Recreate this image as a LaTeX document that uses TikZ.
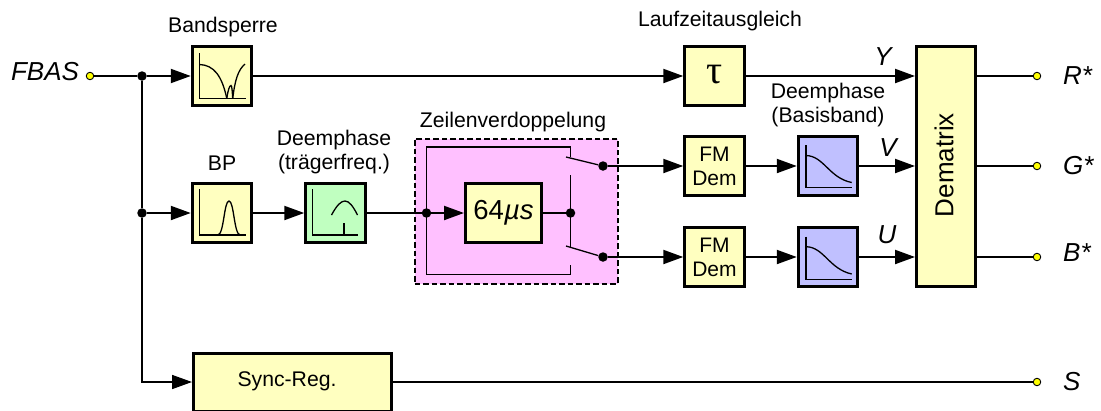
\documentclass[tikz,border=0pt]{standalone}
\usepackage{fontspec}
\setmainfont{Liberation Sans}
\newfontfamily\tauface{Liberation Serif}
\usetikzlibrary{arrows.meta}
\definecolor{byel}{HTML}{FFFFC0}
\definecolor{bgrn}{HTML}{C0FFC0}
\definecolor{bblu}{HTML}{C0C0FF}
\definecolor{bpnk}{HTML}{FFC0FF}
\definecolor{tyel}{HTML}{FFFF00}
\tikzset{
  x=1pt,y=-1pt,
  box/.style={draw=black,line width=3pt,fill=byel,inner sep=0pt,minimum width=59.5pt,minimum height=58.5pt,font=\fontsize{21}{24}\selectfont,align=center},
  lab/.style={inner sep=0pt,font=\fontsize{21.2}{24.5}\selectfont,align=center},
  sig/.style={inner sep=0pt,font=\fontsize{26}{30}\selectfont\itshape},
  wire/.style={line width=2.1pt,draw=black},
  thinw/.style={line width=1.3pt,draw=black},
  arr/.style={-{Triangle[length=20pt,width=14pt]}},
  axis/.style={line width=1.3pt,draw=black},
  curve/.style={line width=1.3pt,draw=black},
  junc/.style={circle,fill=black,inner sep=0pt,minimum size=9.5pt},
  term/.style={circle,fill=tyel,draw=black,line width=0.9pt,inner sep=0pt,minimum size=7.5pt},
}
\begin{document}
\begin{tikzpicture}
\useasboundingbox (0,0) rectangle (1101,410);
\clip (0,0) rectangle (1101,410);
% pink group
\node[draw=black,dash pattern=on 5.5pt off 3pt,line width=2pt,fill=bpnk,minimum width=203pt,minimum height=145pt,inner sep=0pt] (grp) at (516,211) {};
% boxes
\node[box] (bs) at (222,76) {};
\node[box] (bp) at (222,213) {};
\node[box,fill=bgrn] (de) at (335.5,213) {};
\node[box,minimum width=76pt,minimum height=59pt] (d64) at (503.5,213) {\fontsize{27.5}{30}\selectfont 64\textit{µs}};
\node[box] (tau) at (714.5,76) {\raisebox{3pt}{\fontsize{40}{42}\selectfont\tauface τ}};
\node[box] (fm1) at (714.5,166) {FM\\Dem};
\node[box] (fm2) at (714.5,257) {FM\\Dem};
\node[box,fill=bblu] (bb1) at (828,166) {};
\node[box,fill=bblu] (bb2) at (828,257) {};
\node[box,minimum width=59pt,minimum height=240pt] (dm) at (946,166.5) {};
\node[rotate=90,inner sep=0pt,font=\fontsize{26}{30}\selectfont] (dmt) at (944,165) {Dematrix};
\node[box,minimum width=198pt,minimum height=58pt] (sy) at (292.5,382) {};
\node[lab] (syt) at (287,381) {Sync-Reg.};
% terminals and junctions
\node[term] (tin) at (90,76) {};
\node[junc] (j1) at (142,76) {};
\node[junc] (j2) at (142,213) {};
\node[term] (tr) at (1037,76) {};
\node[term] (tg) at (1037,166) {};
\node[term] (tb) at (1037,257) {};
\node[term] (ts) at (1037,382) {};
\node[junc] (j3) at (426.5,213) {};
\node[junc] (j4) at (570.5,213) {};
\node[junc] (j5) at (603,166) {};
\node[junc] (j6) at (603,257) {};
% connectors
\draw[wire] (tin) -- (j1);
\draw[wire,arr] (j1) -- (bs.west);
\draw[wire,arr] (bs.east) -- (tau.west);
\draw[wire,arr] (tau.east) -- (dm.west |- tau.east);
\draw[wire,line width=1.6pt] (j1) -- (j2);
\draw[wire,line width=1.6pt,arr] (j2) |- (sy.west);
\draw[wire,arr] (j2) -- (bp.west);
\draw[wire,arr] (bp.east) -- (de.west);
\draw[wire] (de.east) -- (j3);
\draw[wire,arr] (j3) -- (d64.west);
\draw[thinw] (d64.east) -- (j4);
\draw[wire,arr] (j5) -- (fm1.west |- j5);
\draw[wire,arr] (j6) -- (fm2.west |- j6);
\draw[wire,arr] (fm1.east) -- (bb1.west);
\draw[wire,arr] (fm2.east) -- (bb2.west);
\draw[wire,arr] (bb1.east) -- (dm.west |- bb1.east);
\draw[wire,arr] (bb2.east) -- (dm.west |- bb2.east);
\draw[thinw] (dm.east |- tr) -- (tr);
\draw[thinw] (dm.east |- tg) -- (tg);
\draw[thinw] (dm.east |- tb) -- (tb);
\draw[thinw] (sy.east |- ts) -- (ts);
% switch network
\coordinate (ltop) at (426.5,147);
\coordinate (lbot) at (426.5,274.5);
\coordinate (stop) at (570.5,157);
\coordinate (sbot) at (570.5,265);
\coordinate (cu) at (570.5,175);
\coordinate (cd) at (570.5,246.5);
\coordinate (s1) at (566,157);
\coordinate (s2) at (566,246);
\draw[thinw] (stop) |- (ltop) -- (lbot) -| (sbot);
\draw[thinw] (cu) -- (cd);
\draw[thinw] (s1) -- (j5);
\draw[thinw] (s2) -- (j6);
% filter icons
\draw[axis] (199.5,53) -- (199.5,98.7) -- (245.7,98.7);
\draw[curve] (199.5,64.5) .. controls (214,65) and (222,76) .. (226.8,98.5);
\draw[curve] (226.8,98.5) .. controls (228,90) and (229.5,85.5) .. (231,85.5) .. controls (232,85.5) and (232.3,92) .. (232.7,98.5);
\draw[curve] (232.7,98.5) .. controls (235,80) and (238,70) .. (245,64);
\draw[axis] (199.5,189) -- (199.5,235) -- (245.7,235);
\draw[curve] (218,235) .. controls (224,234) and (224,201) .. (229,201) .. controls (234,201) and (234,234) .. (240,235);
\draw[axis] (312.7,189) -- (312.7,235) -- (358,235);
\draw[curve] (331.5,215) .. controls (337,205) and (341,201) .. (345,201) .. controls (349,201) and (353,206) .. (357.5,215);
\draw[axis] (344,223) -- (344,235);
\draw[axis] (806,145) -- (806,187.7) -- (851.7,187.7);
\draw[curve] (806,155.5) .. controls (824,156) and (829,178) .. (851.7,182.5);
\draw[axis] (806,236.7) -- (806,279.3) -- (851.7,279.3);
\draw[curve] (806,246.7) .. controls (824,247) and (829,269) .. (851.7,274);
% labels
\node[lab] (l1) at (223,27.5) {Bandsperre};
\node[lab] (l2) at (222,163) {BP};
\node[lab] (l3) at (334,152) {Deemphase\\(trägerfreq.)};
\node[lab] (l4) at (513,122) {Zeilenverdoppelung};
\node[lab] (l5) at (720,21) {Laufzeitausgleich};
\node[lab] (l6) at (828,105) {Deemphase\\(Basisband)};
\node[sig] (sf) at (45,72) {FBAS};
\node[sig] (sy1) at (883,57) {Y};
\node[sig] (sv) at (888,148) {V};
\node[sig] (su) at (887,235) {U};
\node[sig,anchor=west] (sr) at (1063,76) {R*};
\node[sig,anchor=west] (sg) at (1063,166) {G*};
\node[sig,anchor=west] (sb) at (1063,253) {B*};
\node[sig,anchor=west] (ss) at (1063,382) {S};
\end{tikzpicture}
\end{document}
